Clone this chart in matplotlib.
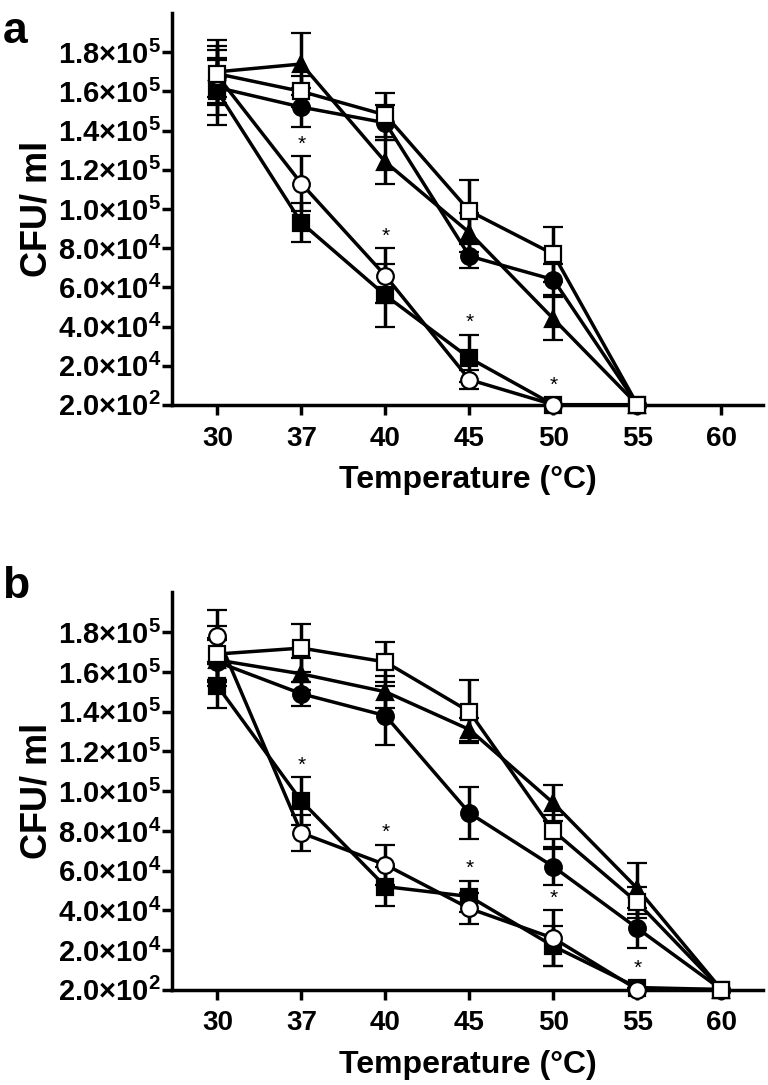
import numpy as np
import matplotlib.pyplot as plt

plt.rcParams['font.family'] = ['Liberation Sans', 'DejaVu Sans']
plt.rcParams['font.weight'] = 'bold'
plt.rcParams['mathtext.fontset'] = 'custom'
plt.rcParams['mathtext.rm'] = 'Liberation Sans:bold'
plt.rcParams['mathtext.bf'] = 'Liberation Sans:bold'

# x categories (temperature, deg C)
temps = ['30', '37', '40', '45', '50', '55', '60']

# y ticks (CFU/ml)
ytick_vals = [200, 2e4, 4e4, 6e4, 8e4, 1.0e5, 1.2e5, 1.4e5, 1.6e5, 1.8e5]
ytick_labels = [r'$\mathrm{2.0{\times}10^{2}}$', r'$\mathrm{2.0{\times}10^{4}}$',
                r'$\mathrm{4.0{\times}10^{4}}$', r'$\mathrm{6.0{\times}10^{4}}$',
                r'$\mathrm{8.0{\times}10^{4}}$', r'$\mathrm{1.0{\times}10^{5}}$',
                r'$\mathrm{1.2{\times}10^{5}}$', r'$\mathrm{1.4{\times}10^{5}}$',
                r'$\mathrm{1.6{\times}10^{5}}$', r'$\mathrm{1.8{\times}10^{5}}$']

# panel a - no data at 60 C
a_fsq = [1.60e5, 9.3e4, 5.6e4, 2.4e4, 200, 200]
a_fsq_err = [1.7e4, 1.0e4, 1.6e4, 1.2e4, 0, 0]
a_fci = [1.62e5, 1.52e5, 1.44e5, 7.6e4, 6.4e4, 200]
a_fci_err = [1.4e4, 1.0e4, 9e3, 6e3, 8e3, 0]
a_tri = [1.70e5, 1.74e5, 1.24e5, 8.8e4, 4.4e4, 200]
a_tri_err = [1.6e4, 1.6e4, 1.1e4, 1.0e4, 1.1e4, 0]
a_oci = [1.68e5, 1.13e5, 6.6e4, 1.3e4, 200, 200]
a_oci_err = [1.5e4, 1.4e4, 1.4e4, 5e3, 0, 0]
a_osq = [1.69e5, 1.60e5, 1.48e5, 9.9e4, 7.7e4, 200]
a_osq_err = [1.2e4, 8e3, 1.1e4, 1.6e4, 1.4e4, 0]
a_stars = [1, 2, 3, 4]

# panel b
b_fsq = [1.53e5, 9.5e4, 5.2e4, 4.7e4, 2.2e4, 1.2e3, 200]
b_fsq_err = [1.1e4, 1.2e4, 1.0e4, 8e3, 1.0e4, 0, 0]
b_fci = [1.65e5, 1.49e5, 1.38e5, 8.9e4, 6.2e4, 3.1e4, 200]
b_fci_err = [1.2e4, 6e3, 1.5e4, 1.3e4, 9e3, 1.0e4, 0]
b_tri = [1.66e5, 1.59e5, 1.50e5, 1.31e5, 9.4e4, 5.1e4, 200]
b_tri_err = [1.0e4, 8e3, 8e3, 6e3, 9e3, 1.3e4, 0]
b_oci = [1.78e5, 7.9e4, 6.3e4, 4.1e4, 2.6e4, 200, 200]
b_oci_err = [1.3e4, 9e3, 1.0e4, 8e3, 1.4e4, 0, 0]
b_osq = [1.69e5, 1.72e5, 1.65e5, 1.40e5, 8.0e4, 4.4e4, 200]
b_osq_err = [1.4e4, 1.2e4, 1.0e4, 1.6e4, 8e3, 8e3, 0]
b_stars = [1, 2, 3, 4, 5]

styles = [('s', 'black'), ('o', 'black'), ('^', 'black'), ('o', 'white'), ('s', 'white')]

fig = plt.figure(figsize=(7.68, 10.85), dpi=100)
ax_a = fig.add_axes([0.224, 0.627, 0.77, 0.361])
ax_b = fig.add_axes([0.224, 0.088, 0.77, 0.366])


def draw(ax, series, errs, stars):
    x = np.arange(len(series[0]))
    for (m, fc), y, e in zip(styles, series, errs):
        ax.errorbar(x, y, yerr=e, color='black', lw=2.5, elinewidth=2.5,
                    capsize=7, capthick=2.5, marker=m, ms=12 if m != '^' else 11,
                    mfc=fc, mec='black', mew=1.6, clip_on=False, zorder=3)
    # significance marks above the open circle / filled square bars
    for i in stars:
        err_top = max(errs[0][i], errs[3][i])
        top = max(series[0][i] + errs[0][i], series[3][i] + errs[3][i])
        off = 2 if err_top > 0 else 7
        ax.annotate('*', (i, top), xytext=(0, off), textcoords='offset points',
                    ha='center', va='bottom', fontsize=15, fontweight='normal',
                    zorder=5)
    ax.set_xlim(-0.54, 6.5)
    ax.set_ylim(200, 2.0e5)
    ax.set_xticks(range(len(temps)))
    ax.set_xticklabels(temps, fontsize=20)
    ax.set_yticks(ytick_vals)
    ax.set_yticklabels(ytick_labels, fontsize=21)
    ax.spines['top'].set_visible(False)
    ax.spines['right'].set_visible(False)
    ax.spines['left'].set_linewidth(2.5)
    ax.spines['bottom'].set_linewidth(2.5)
    ax.tick_params(length=7, width=2.5, direction='out')
    ax.tick_params(axis='y', pad=1)
    ax.tick_params(axis='x', pad=8)
    ax.set_xlabel('Temperature (°C)', fontsize=23, fontweight='bold', labelpad=10)
    ax.set_ylabel('CFU/ ml', fontsize=26, fontweight='bold', labelpad=2)


draw(ax_a, [a_fsq, a_fci, a_tri, a_oci, a_osq],
     [a_fsq_err, a_fci_err, a_tri_err, a_oci_err, a_osq_err], a_stars)
draw(ax_b, [b_fsq, b_fci, b_tri, b_oci, b_osq],
     [b_fsq_err, b_fci_err, b_tri_err, b_oci_err, b_osq_err], b_stars)

fig.text(0.003, 0.99, 'a', fontsize=32, fontweight='bold', va='top')
fig.text(0.003, 0.478, 'b', fontsize=32, fontweight='bold', va='top')

fig.savefig('out.png', dpi=100)
